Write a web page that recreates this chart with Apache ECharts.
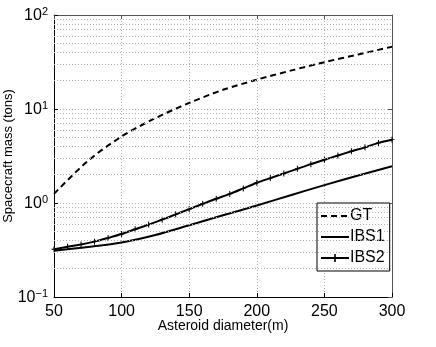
<!DOCTYPE html>
<html>
<head>
<meta charset="utf-8">
<script src="https://cdn.jsdelivr.net/npm/echarts@6/dist/echarts.min.js"></script>
<style>
  html, body { margin: 0; padding: 0; background: #fff; }
  #mass { width: 436px; height: 347px; }
</style>
</head>
<body>
<div id="mass"></div>
<script>
// diameters (m)
const diamCoarse = [50, 75, 100, 125, 150, 175, 200, 225, 250, 275, 300]
const diamFine = [50, 60, 70, 80, 90, 100, 110, 120, 130, 140, 150, 160, 170, 180, 190, 200, 210, 220, 230, 240, 250, 260, 270, 280, 290, 300]
// spacecraft mass (tons)
const gtMass = [1.25, 2.8, 5.1, 8.0, 11.6, 16, 20.5, 25.6, 31.5, 38, 46]
const ibs1Mass = [0.31, 0.34, 0.38, 0.457, 0.58, 0.74, 0.94, 1.21, 1.55, 1.96, 2.46]
const ibs2Mass = [0.322, 0.343, 0.361, 0.388, 0.425, 0.468, 0.525, 0.589, 0.665, 0.757, 0.861, 0.98, 1.11, 1.25, 1.43, 1.64, 1.84, 2.06, 2.31, 2.59, 2.88, 3.2, 3.55, 3.91, 4.36, 4.72]
// log minor grid values
const minorTicks = [0.2, 0.3, 0.4, 0.5, 0.6, 0.7, 0.8, 0.9, 2, 3, 4, 5, 6, 7, 8, 9, 20, 30, 40, 50, 60, 70, 80, 90]
const expLabels = { 0.1: '−1', 1: '0', 10: '1', 100: '2' }

const font = 'Liberation Sans, Arial, sans-serif'
const chart = echarts.init(document.getElementById('mass'))
const pair = (xs, ys) => xs.map((x, i) => [x, ys[i]])
const gridLine = { show: true, lineStyle: { type: [1, 2], color: '#b0b0b0', width: 1 } }
const noMark = { color: 'rgba(0,0,0,0)', borderWidth: 0 }

const option = {
  animation: false,
  grid: { left: 54, right: 44, top: 15, bottom: 50, outerBoundsMode: 'none', containLabel: false },
  legend: {
    data: [
      { name: 'GT', itemStyle: noMark },
      { name: 'IBS1', itemStyle: noMark },
      { name: 'IBS2' }
    ],
    orient: 'vertical',
    left: 317,
    top: 203,
    padding: [5, 5, 5, 3],
    itemGap: 5,
    itemWidth: 28,
    itemHeight: 10,
    borderColor: '#000',
    borderWidth: 1,
    borderRadius: 0,
    backgroundColor: '#fff',
    textStyle: { fontSize: 16, color: '#000', fontFamily: font, padding: [0, 0, 0, -4] }
  },
  xAxis: [
    {
      type: 'value',
      min: 50,
      max: 300,
      interval: 50,
      name: 'Asteroid diameter(m)',
      nameLocation: 'middle',
      nameGap: 22,
      nameMoveOverlap: false,
      nameTextStyle: { fontSize: 14, color: '#000', fontFamily: font },
      axisLine: { lineStyle: { color: '#000', width: 1 } },
      axisTick: { inside: true, length: 4, lineStyle: { color: '#000' } },
      axisLabel: { fontSize: 16, color: '#000', fontFamily: font, margin: 7 },
      splitLine: gridLine
    },
    {
      type: 'value',
      position: 'top',
      min: 50,
      max: 300,
      interval: 50,
      axisLine: { show: true, lineStyle: { color: '#555', width: 1 } },
      axisTick: { show: true, inside: true, length: 4, lineStyle: { color: '#555' } },
      axisLabel: { show: false },
      splitLine: { show: false }
    }
  ],
  yAxis: [
    {
      type: 'log',
      logBase: 10,
      min: 0.1,
      max: 100,
      name: 'Spacecraft mass (tons)',
      nameLocation: 'middle',
      nameGap: 39,
      nameMoveOverlap: false,
      nameTextStyle: { fontSize: 13, color: '#000', fontFamily: font },
      axisLine: { show: true, lineStyle: { color: '#000', width: 1 } },
      axisTick: { show: true, inside: true, length: 4, lineStyle: { color: '#000' } },
      axisLabel: {
        margin: 6,
        formatter: v => '{b|10}{s|' + (expLabels[+v.toPrecision(3)] || '') + '}',
        rich: {
          b: { fontSize: 16, color: '#000', fontFamily: font, lineHeight: 18, verticalAlign: 'bottom' },
          s: { fontSize: 11, color: '#000', fontFamily: font, verticalAlign: 'top' }
        }
      },
      splitLine: gridLine
    },
    {
      type: 'log',
      logBase: 10,
      min: 0.1,
      max: 100,
      position: 'right',
      axisLine: { show: true, lineStyle: { color: '#555', width: 1 } },
      axisTick: { show: true, inside: true, length: 4, lineStyle: { color: '#555' } },
      axisLabel: { show: false },
      splitLine: { show: false }
    }
  ],
  series: [
    {
      name: 'minor',
      type: 'line',
      data: [],
      z: 0,
      markLine: {
        silent: true,
        symbol: 'none',
        label: { show: false },
        lineStyle: { type: [1, 2], color: '#b0b0b0', width: 1 },
        data: minorTicks.map(v => ({ yAxis: v }))
      }
    },
    {
      name: 'GT',
      type: 'line',
      data: pair(diamCoarse, gtMass),
      smooth: 0.3,
      symbol: 'none',
      z: 3,
      lineStyle: { color: '#000', width: 2, type: [6, 4] },
      itemStyle: { color: '#000' }
    },
    {
      name: 'IBS1',
      type: 'line',
      data: pair(diamCoarse, ibs1Mass),
      smooth: 0.3,
      symbol: 'none',
      z: 3,
      lineStyle: { color: '#000', width: 2 },
      itemStyle: { color: '#000' }
    },
    {
      name: 'IBS2',
      type: 'line',
      data: pair(diamFine, ibs2Mass),
      smooth: 0.3,
      symbol: 'path://M-0.6,-4H0.6V-0.6H3V0.6H0.6V4H-0.6V0.6H-3V-0.6H-0.6Z',
      symbolSize: [5, 6],
      showSymbol: true,
      z: 3,
      lineStyle: { color: '#000', width: 2 },
      itemStyle: { color: '#000' }
    }
  ]
}
chart.setOption(option)
</script>
</body>
</html>
